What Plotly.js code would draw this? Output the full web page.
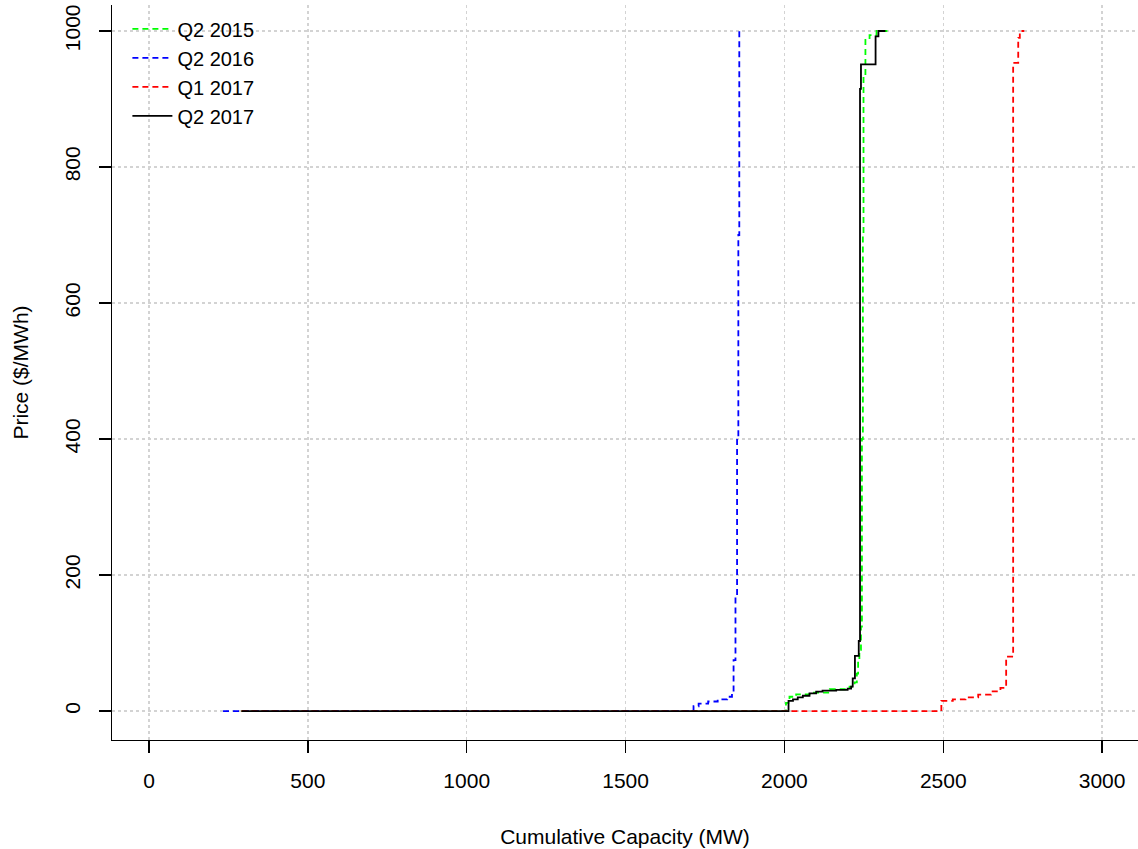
<!DOCTYPE html>
<html>
<head>
<meta charset="utf-8">
<script src="https://cdn.plot.ly/plotly-3.0.1.min.js"></script>
<style>html,body{margin:0;padding:0;background:#fff;}#chart{width:1138px;height:849px;}</style>
</head>
<body>
<div id="chart"></div>
<script>
// Series: cumulative capacity (MW) and price ($/MWh), step curves
const seriesNames = ["Q2 2015", "Q2 2016", "Q1 2017", "Q2 2017"];

const q2_2015_cap   = [291, 2005, 2016, 2037, 2079, 2143, 2205, 2221, 2228, 2232, 2236, 2241, 2244, 2247, 2249, 2255, 2268, 2290, 2330];
const q2_2015_price = [0,   12,   21,   24.5, 27,   32,   36,   42,   55,   75,   90,   124,  400,  700,  933,  987,  994,  1000, 1000];

const q2_2016_cap   = [233, 1714, 1730, 1760, 1790, 1820, 1835, 1840, 1846, 1851, 1855, 1858, 1862];
const q2_2016_price = [0,   7,    11,   14,   17,   21,   28,   75,   168,  400,  700,  1000, 1000];

const q1_2017_cap   = [291, 2494, 2530, 2570, 2610, 2650, 2680, 2698, 2720, 2736, 2741, 2755];
const q1_2017_price = [0,   15,   17,   20,   24,   29,   34,   80,   953,  990,  1000, 1000];

const q2_2017_cap   = [291, 2013, 2027, 2042, 2058, 2079, 2100, 2120, 2163, 2199, 2210, 2215, 2222, 2234, 2238, 2241, 2287, 2296, 2318];
const q2_2017_price = [0,   15,   17,   20,   22.5, 26,   28.4, 30,   31,   33,   36,   48,   81,   103,  915,  951,  992,  1000, 1000];

const xTicks = [0, 500, 1000, 1500, 2000, 2500, 3000];
const yTicks = [0, 200, 400, 600, 800, 1000];

const FONT = "Liberation Sans, Arial, sans-serif";

function tr(name, x, y, color, dash) {
  return {
    type: "scatter", mode: "lines", name: name, x: x, y: y,
    line: {color: color, width: 1.8, dash: dash, shape: "hv"},
    hoverinfo: "skip"
  };
}

const data = [
  tr(seriesNames[0], q2_2015_cap, q2_2015_price, "#00ff00", "6px,4px"),
  tr(seriesNames[1], q2_2016_cap, q2_2016_price, "#0000ff", "6px,4px"),
  tr(seriesNames[2], q1_2017_cap, q1_2017_price, "#ff0000", "6px,4px"),
  tr(seriesNames[3], q2_2017_cap, q2_2017_price, "#000000", "solid")
];

const layout = {
  width: 1138, height: 849,
  paper_bgcolor: "#ffffff", plot_bgcolor: "#ffffff",
  margin: {l: 112, r: 0, t: 5, b: 109, pad: 0},
  font: {family: FONT, size: 21, color: "#000"},
  showlegend: true,
  legend: {
    x: 0.015, y: 0.994, xanchor: "left", yanchor: "top",
    bgcolor: "rgba(0,0,0,0)", borderwidth: 0,
    font: {family: FONT, size: 20, color: "#000"},
    itemwidth: 40,
    tracegroupgap: 0
  },
  xaxis: {
    range: [-116.5, 3113],
    tickvals: xTicks, ticktext: xTicks.map(String),
    showline: true, linecolor: "#000", linewidth: 1.3, mirror: false,
    ticks: "outside", ticklen: 12, tickwidth: 1.3, tickcolor: "#000",
    ticklabelstandoff: 9,
    showgrid: true, gridcolor: "#d3d3d3", gridwidth: 1.3, griddash: "dot",
    zeroline: false,
    tickfont: {family: FONT, size: 21, color: "#000"},
    title: {text: "Cumulative Capacity (MW)", font: {family: FONT, size: 21, color: "#000"}, standoff: 38}
  },
  yaxis: {
    range: [-42.6, 1038.2],
    tickvals: yTicks, ticktext: yTicks.map(String),
    tickangle: -90,
    showline: true, linecolor: "#000", linewidth: 1.3, mirror: false,
    ticks: "outside", ticklen: 12, tickwidth: 1.3, tickcolor: "#000",
    ticklabelstandoff: 10,
    showgrid: true, gridcolor: "#d3d3d3", gridwidth: 1.3, griddash: "dot",
    zeroline: false,
    tickfont: {family: FONT, size: 21, color: "#000"},
    title: {text: "Price ($/MWh)", font: {family: FONT, size: 21, color: "#000"}, standoff: 27}
  }
};

Plotly.newPlot("chart", data, layout, {staticPlot: true, displayModeBar: false});
</script>
</body>
</html>
